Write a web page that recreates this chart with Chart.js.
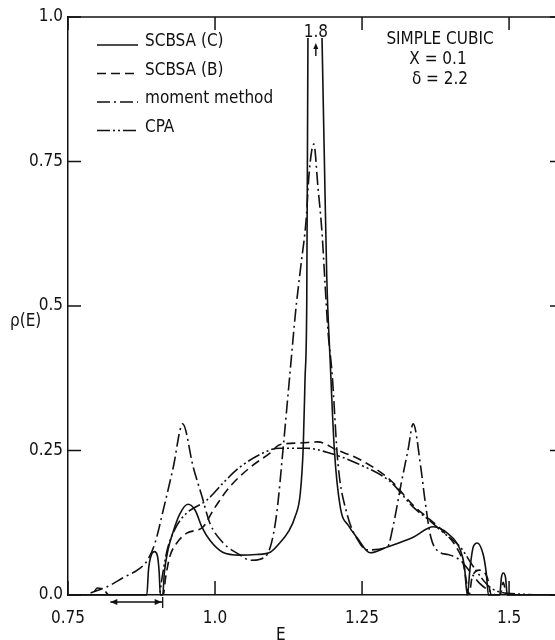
<!DOCTYPE html>
<html>
<head>
<meta charset="utf-8">
<script src="https://cdn.jsdelivr.net/npm/chart.js@4.4.1/dist/chart.umd.min.js"></script>
<style>
html, body { margin: 0; padding: 0; background: #fff; overflow: hidden; }
#wrap { width: 564px; height: 640px; }
</style>
</head>
<body>
<div id="wrap"><canvas id="dosChart" width="564" height="640"></canvas></div>
<script>
// energies (E) and densities of states rho(E)
const scbsaC_E   = [0.75, 0.884, 0.887, 0.892, 0.897, 0.902, 0.905, 0.907, 0.911, 0.914, 0.920, 0.928, 0.940, 0.954, 0.966, 0.978, 0.991, 1.013, 1.042, 1.070, 1.094, 1.110, 1.125, 1.136, 1.145, 1.150, 1.153, 1.156, 1.158, 1.168, 1.182, 1.186, 1.190, 1.196, 1.203, 1.213, 1.227, 1.241, 1.264, 1.293, 1.337, 1.371, 1.395, 1.417, 1.424, 1.429, 1.434, 1.439, 1.446, 1.456, 1.461, 1.465, 1.484, 1.487, 1.490, 1.494, 1.497, 1.59];
const scbsaC_rho = [0,    0,     0.045, 0.070, 0.075, 0.068, 0.040, 0,     0,     0.040, 0.078, 0.107, 0.140, 0.157, 0.147, 0.117, 0.095, 0.074, 0.069, 0.070, 0.074, 0.090, 0.110, 0.135, 0.176, 0.256, 0.372, 0.510, 0.960, 1.80,  0.960, 0.750, 0.550, 0.400, 0.250, 0.152, 0.120, 0.100, 0.073, 0.083, 0.100, 0.118, 0.107, 0.078, 0.050, 0,     0.050, 0.083, 0.090, 0.070, 0.040, 0,     0,     0.030, 0.038, 0.030, 0,     0];

const scbsaB_E   = [0.75, 0.79, 0.80, 0.81, 0.82, 0.912, 0.916, 0.923, 0.935, 0.952, 0.980, 0.997, 1.025, 1.060, 1.094, 1.110, 1.145, 1.175, 1.207, 1.247, 1.298, 1.337, 1.366, 1.388, 1.412, 1.422, 1.428, 1.432, 1.437, 1.450, 1.463, 1.470, 1.485, 1.490, 1.496, 1.59];
const scbsaB_rho = [0,    0,    0.012, 0.010, 0,  0,     0.030, 0.066, 0.090, 0.107, 0.118, 0.147, 0.187, 0.221, 0.246, 0.260, 0.263, 0.265, 0.251, 0.234, 0.199, 0.155, 0.130, 0.110, 0.080, 0.055, 0.020, 0,     0.030, 0.043, 0.030, 0,     0,     0.022, 0,     0];

const moment_E   = [0.75, 0.780, 0.787, 0.816, 0.844, 0.872, 0.885, 0.898, 0.912, 0.929, 0.945, 0.963, 0.978, 0.991, 1.014, 1.043, 1.060, 1.077, 1.094, 1.105, 1.116, 1.128, 1.137, 1.146, 1.155, 1.160, 1.168, 1.175, 1.182, 1.187, 1.192, 1.199, 1.209, 1.224, 1.246, 1.258, 1.293, 1.304, 1.316, 1.328, 1.337, 1.350, 1.357, 1.367, 1.384, 1.396, 1.417, 1.434, 1.450, 1.470, 1.478, 1.59];
const moment_rho = [0,    0,     0.003, 0.014, 0.030, 0.046, 0.060, 0.090, 0.147, 0.221, 0.296, 0.221, 0.170, 0.125, 0.090, 0.069, 0.060, 0.062, 0.083, 0.142, 0.256, 0.390, 0.490, 0.570, 0.650, 0.730, 0.780, 0.706, 0.626, 0.540, 0.458, 0.384, 0.228, 0.142, 0.090, 0.078, 0.083, 0.125, 0.190, 0.250, 0.296, 0.220, 0.164, 0.100, 0.073, 0.070, 0.060, 0.040, 0.020, 0.005, 0,     0];

const cpa_E   = [0.75, 0.905, 0.910, 0.915, 0.920, 0.935, 0.952, 0.986, 1.014, 1.042, 1.094, 1.110, 1.156, 1.190, 1.241, 1.298, 1.337, 1.366, 1.388, 1.417, 1.440, 1.467, 1.497, 1.59];
const cpa_rho = [0,    0,     0.030, 0.060, 0.083, 0.120, 0.142, 0.164, 0.194, 0.221, 0.251, 0.254, 0.254, 0.247, 0.228, 0.196, 0.152, 0.128, 0.108, 0.083, 0.048, 0.014, 0.003, 0];

const seriesNames = ['SCBSA (C)', 'SCBSA (B)', 'moment method', 'CPA'];

const xTicks = [0.75, 1.0, 1.25, 1.5];
const xTickLabels = ['0.75', '1.0', '1.25', '1.5'];
const yTicks = [0, 0.25, 0.5, 0.75, 1.0];
const yTickLabels = ['0.0', '0.25', '0.5', '0.75', '1.0'];

const infoLines = ['SIMPLE CUBIC', 'X = 0.1', '\u03b4 = 2.2'];
const peakE = 1.168;
const peakLabel = '1.8';
const bandArrow = [0.822, 0.911];

const INK = '#111';
const FAMILY = '"DejaVu Sans Condensed", "DejaVu Sans", sans-serif';
const FONT = '17px ' + FAMILY;

function pts(xs, ys) {
    return xs.map((x, i) => ({ x: x, y: ys[i] }));
}

function seg(ctx, x1, y1, x2, y2) {
    ctx.beginPath();
    ctx.moveTo(x1, y1);
    ctx.lineTo(x2, y2);
    ctx.stroke();
}

// ticks inside the frame, top/right frame, legend and text notes
const overlayPlugin = {
    id: 'overlay',
    afterDraw(chart) {
        const ctx = chart.ctx;
        const xs = chart.scales.x, ys = chart.scales.y;
        const a = chart.chartArea;
        ctx.save();
        ctx.strokeStyle = INK;
        ctx.fillStyle = INK;
        ctx.lineWidth = 1.5;
        ctx.setLineDash([]);

        seg(ctx, a.left, a.top, a.right, a.top);
        seg(ctx, a.right, a.top, a.right, a.bottom);

        xTicks.forEach(v => {
            const px = xs.getPixelForValue(v);
            seg(ctx, px, a.bottom, px, a.bottom - 14);
            seg(ctx, px, a.top, px, a.top + 13);
        });
        yTicks.forEach(v => {
            const py = ys.getPixelForValue(v);
            seg(ctx, a.left, py, a.left + 13, py);
            seg(ctx, a.right, py, a.right - 12, py);
        });

        // legend
        ctx.font = FONT;
        ctx.textAlign = 'left';
        ctx.textBaseline = 'alphabetic';
        chart.data.datasets.forEach((ds, i) => {
            const ly = 45 + i * 28.5;
            ctx.setLineDash(ds.borderDash || []);
            ctx.lineWidth = 1.4;
            seg(ctx, 97, ly, 138, ly);
            ctx.setLineDash([]);
            ctx.fillText(ds.label, 145, ly + 1);
        });

        // sample description
        ctx.textAlign = 'center';
        ctx.textBaseline = 'middle';
        ctx.fillText(infoLines[0], 440, 40);
        ctx.fillText(infoLines[1], 438, 60);
        ctx.fillText(infoLines[2], 440, 80);

        // off-scale peak marker
        const pk = xs.getPixelForValue(peakE) + 2;
        ctx.fillText(peakLabel, pk, 33);
        ctx.lineWidth = 1.4;
        seg(ctx, pk, 56, pk, 46);
        ctx.beginPath();
        ctx.moveTo(pk, 43);
        ctx.lineTo(pk - 2.5, 49);
        ctx.lineTo(pk + 2.5, 49);
        ctx.closePath();
        ctx.fill();

        // band-width arrow under the axis
        const ax1 = xs.getPixelForValue(bandArrow[0]);
        const ax2 = xs.getPixelForValue(bandArrow[1]);
        const ay = a.bottom + 7;
        ctx.lineWidth = 1.3;
        seg(ctx, ax1, ay, ax2, ay);
        seg(ctx, ax2, ay - 5, ax2, ay + 6);
        ctx.beginPath();
        ctx.moveTo(ax1, ay); ctx.lineTo(ax1 + 7, ay - 3); ctx.lineTo(ax1 + 7, ay + 3); ctx.closePath(); ctx.fill();
        ctx.beginPath();
        ctx.moveTo(ax2 - 1, ay); ctx.lineTo(ax2 - 8, ay - 3); ctx.lineTo(ax2 - 8, ay + 3); ctx.closePath(); ctx.fill();

        // axis titles
        ctx.textAlign = 'left';
        ctx.fillText('\u03c1(E)', 10, 322);
        ctx.textBaseline = 'top';
        ctx.fillText('E', 276, 627);
        ctx.restore();
    }
};

const lineBase = {
    borderColor: INK,
    borderWidth: 1.6,
    pointRadius: 0,
    fill: false,
    cubicInterpolationMode: 'monotone'
};

const ctx = document.getElementById('dosChart').getContext('2d');
const dosChart = new Chart(ctx, {
    type: 'line',
    data: {
        datasets: [
            Object.assign({}, lineBase, { label: seriesNames[0], data: pts(scbsaC_E, scbsaC_rho), borderDash: [], clip: { left: 2, top: -21, right: 2, bottom: 2 } }),
            Object.assign({}, lineBase, { label: seriesNames[1], data: pts(scbsaB_E, scbsaB_rho), borderDash: [9, 5] }),
            Object.assign({}, lineBase, { label: seriesNames[2], data: pts(moment_E, moment_rho), borderDash: [13, 4, 2, 4] }),
            Object.assign({}, lineBase, { label: seriesNames[3], data: pts(cpa_E, cpa_rho), borderDash: [13, 3, 2, 3, 2, 3] })
        ]
    },
    options: {
        responsive: false,
        animation: false,
        devicePixelRatio: 1,
        layout: { padding: { top: 17, right: 2, left: 0, bottom: 0 } },
        plugins: {
            legend: { display: false },
            tooltip: { enabled: false }
        },
        scales: {
            x: {
                type: 'linear',
                min: 0.75,
                max: 1.59,
                afterBuildTicks: s => { s.ticks = xTicks.map(v => ({ value: v })); },
                afterFit: s => { s.height = 45; },
                grid: { display: false, drawTicks: false },
                border: { display: true, color: INK, width: 1.5 },
                ticks: {
                    color: INK,
                    font: { family: FAMILY, size: 17 },
                    padding: 13,
                    maxRotation: 0,
                    autoSkip: false,
                    callback: (v, i) => xTickLabels[i]
                }
            },
            y: {
                type: 'linear',
                min: 0,
                max: 1.0,
                afterBuildTicks: s => { s.ticks = yTicks.map(v => ({ value: v })); },
                afterFit: s => { s.width = 68; },
                grid: { display: false, drawTicks: false },
                border: { display: true, color: INK, width: 1.5 },
                ticks: {
                    color: INK,
                    font: { family: FAMILY, size: 17 },
                    padding: 5,
                    autoSkip: false,
                    callback: (v, i) => yTickLabels[i]
                }
            }
        }
    },
    plugins: [overlayPlugin]
});
</script>
</body>
</html>
